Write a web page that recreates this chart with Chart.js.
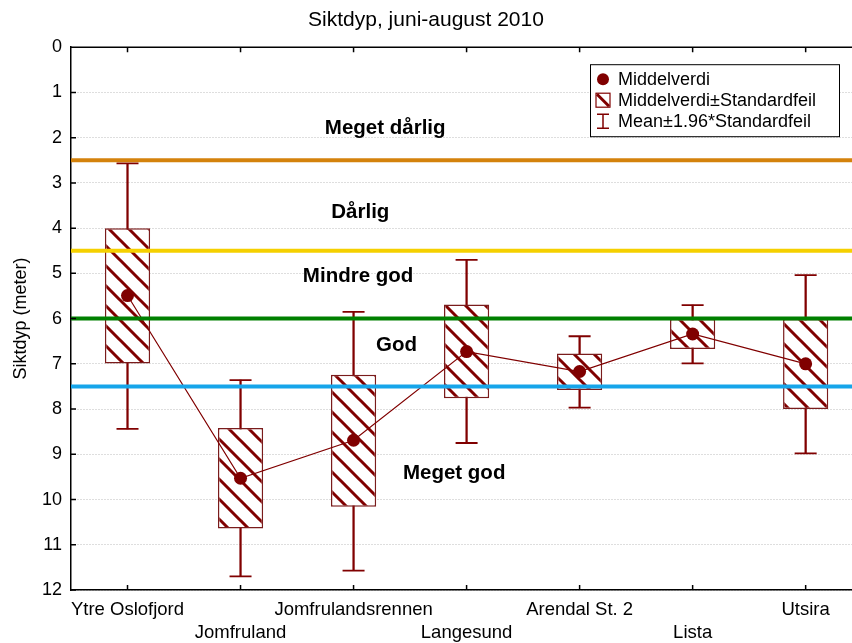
<!DOCTYPE html>
<html>
<head>
<meta charset="utf-8">
<script src="https://cdn.jsdelivr.net/npm/chart.js@4"></script>
<style>
  html, body { margin: 0; padding: 0; overflow: hidden; background: #fff; }
  #wrap { width: 852px; height: 643px; }
</style>
</head>
<body>
<div id="wrap"><canvas id="chart"></canvas></div>
<script>
const stations = ["Ytre Oslofjord", "Jomfruland", "Jomfrulandsrennen", "Langesund", "Arendal St. 2", "Lista", "Utsira"];
const means   = [5.49, 9.53, 8.69, 6.73, 7.17, 6.34, 7.00];
const seLow   = [4.00, 8.42, 7.24, 5.69, 6.77, 6.01, 6.01];
const seHigh  = [6.99, 10.64, 10.16, 7.76, 7.58, 6.67, 8.00];
const ciLow   = [2.57, 7.36, 5.85, 4.70, 6.39, 5.70, 5.04];
const ciHigh  = [8.44, 11.70, 11.57, 8.75, 7.97, 6.99, 8.98];

// quality classes: limit lines and the labels between them
const limits = [2.5, 4.5, 6.0, 7.5];
const limitColors = ["#d4820c", "#f5d000", "#008000", "#16a5ea"];
const classLabels = [
  { text: "Meget dårlig", x: 2.28, y: 1.79 },
  { text: "Dårlig", x: 2.06, y: 3.65 },
  { text: "Mindre god", x: 2.04, y: 5.06 },
  { text: "God", x: 2.38, y: 6.60 },
  { text: "Meget god", x: 2.89, y: 9.41 }
];

const DARK = "#800000";
const FONT = "'Liberation Sans', Arial, sans-serif";

// stations sit on x = 0..6; the plot runs on past the right edge of the picture
const xy = arr => arr.map((v, i) => ({ x: i, y: v }));

function hatch() {
  const c = document.createElement("canvas");
  c.width = 20; c.height = 20;
  const g = c.getContext("2d");
  g.fillStyle = "#fff";
  g.fillRect(0, 0, 20, 20);
  g.strokeStyle = DARK;
  g.lineWidth = 3;
  g.beginPath();
  g.moveTo(-5, -5); g.lineTo(25, 25);
  g.moveTo(-5, 15); g.lineTo(5, 25);
  g.moveTo(15, -5); g.lineTo(25, 5);
  g.stroke();
  return g.createPattern(c, "repeat");
}

// limit lines, class labels, inward ticks, top frame and legend box
const overlay = {
  id: "overlay",
  afterDatasetsDraw(chart) {
    const { ctx, chartArea: a, scales: { x, y } } = chart;
    ctx.save();
    limits.forEach((v, i) => {
      const py = y.getPixelForValue(v);
      ctx.strokeStyle = limitColors[i];
      ctx.lineWidth = 4;
      ctx.beginPath();
      ctx.moveTo(a.left, py);
      ctx.lineTo(a.right, py);
      ctx.stroke();
    });
    ctx.fillStyle = "#000";
    ctx.font = "bold 20.5px " + FONT;
    ctx.textAlign = "center";
    ctx.textBaseline = "middle";
    classLabels.forEach(l => {
      ctx.fillText(l.text, x.getPixelForValue(l.x), y.getPixelForValue(l.y));
    });
    ctx.restore();
  },
  afterDraw(chart) {
    const { ctx, chartArea: a, scales: { x, y } } = chart;
    ctx.save();
    ctx.strokeStyle = "#000";
    ctx.lineWidth = 1.5;
    ctx.beginPath();
    ctx.moveTo(a.left, a.top);
    ctx.lineTo(a.right, a.top);
    stations.forEach((s, i) => {
      const px = x.getPixelForValue(i);
      ctx.moveTo(px, a.bottom); ctx.lineTo(px, a.bottom - 5);
      ctx.moveTo(px, a.top); ctx.lineTo(px, a.top + 5);
    });
    y.ticks.forEach(t => {
      const py = y.getPixelForValue(t.value);
      ctx.moveTo(a.left, py); ctx.lineTo(a.left + 5, py);
    });
    ctx.stroke();

    // legend
    const lx = a.right - 262, ly = a.top + 17, lw = 249, lh = 72;
    ctx.fillStyle = "#fff";
    ctx.fillRect(lx, ly, lw, lh);
    ctx.lineWidth = 1;
    ctx.strokeStyle = "#000";
    ctx.strokeRect(lx + 0.5, ly + 0.5, lw, lh);
    const mx = lx + 13;
    const rows = [ly + 15, ly + 36, ly + 57];
    ctx.fillStyle = DARK;
    ctx.beginPath();
    ctx.arc(mx, rows[0], 6, 0, Math.PI * 2);
    ctx.fill();
    ctx.strokeStyle = DARK;
    ctx.lineWidth = 1.2;
    ctx.strokeRect(mx - 7, rows[1] - 7, 14, 14);
    ctx.lineWidth = 3;
    ctx.beginPath();
    ctx.moveTo(mx - 6, rows[1] - 6); ctx.lineTo(mx + 6, rows[1] + 6);
    ctx.stroke();
    ctx.lineWidth = 1.5;
    ctx.beginPath();
    ctx.moveTo(mx - 6, rows[2] - 7); ctx.lineTo(mx + 6, rows[2] - 7);
    ctx.moveTo(mx, rows[2] - 7); ctx.lineTo(mx, rows[2] + 7);
    ctx.moveTo(mx - 6, rows[2] + 7); ctx.lineTo(mx + 6, rows[2] + 7);
    ctx.stroke();
    ctx.fillStyle = "#000";
    ctx.font = "18px " + FONT;
    ctx.textAlign = "left";
    ctx.textBaseline = "middle";
    ["Middelverdi", "Middelverdi±Standardfeil", "Mean±1.96*Standardfeil"].forEach((t, i) => {
      ctx.fillText(t, lx + 28, rows[i] + 1);
    });
    ctx.restore();
  }
};

const ctx = document.getElementById("chart").getContext("2d");
new Chart(ctx, {
  type: "bar",
  data: {
    datasets: [
      {
        type: "line",
        label: "Middelverdi",
        data: xy(means),
        borderColor: DARK,
        borderWidth: 1.2,
        backgroundColor: DARK,
        pointRadius: 6.5,
        pointBackgroundColor: DARK,
        pointBorderWidth: 0,
        tension: 0,
        order: 0
      },
      {
        type: "line",
        label: "capLow",
        data: xy(ciLow),
        showLine: false,
        pointStyle: "line",
        pointRadius: 11,
        borderColor: DARK,
        pointBorderWidth: 1.8,
        order: 1
      },
      {
        type: "line",
        label: "capHigh",
        data: xy(ciHigh),
        showLine: false,
        pointStyle: "line",
        pointRadius: 11,
        borderColor: DARK,
        pointBorderWidth: 1.8,
        order: 1
      },
      {
        label: "Middelverdi±Standardfeil",
        data: seLow.map((v, i) => ({ x: i, y: [v, seHigh[i]] })),
        backgroundColor: hatch(),
        borderColor: "#7a1c1c",
        borderWidth: 1.5,
        borderSkipped: false,
        grouped: false,
        barPercentage: 0.4,
        categoryPercentage: 1,
        order: 2
      },
      {
        label: "Mean±1.96*Standardfeil",
        data: ciLow.map((v, i) => ({ x: i, y: [v, ciHigh[i]] })),
        backgroundColor: DARK,
        barThickness: 1.6,
        grouped: false,
        order: 3
      }
    ]
  },
  options: {
    responsive: true,
    maintainAspectRatio: false,
    animation: false,
    layout: { autoPadding: false },
    plugins: {
      legend: { display: false },
      tooltip: { enabled: false },
      title: {
        display: true,
        text: "Siktdyp, juni-august 2010",
        color: "#000",
        font: { family: FONT, size: 21, weight: "normal" },
        padding: { top: 8, bottom: 14 }
      }
    },
    scales: {
      x: {
        type: "linear",
        min: -0.5,
        max: 6.41,
        offset: false,
        grid: { display: false, drawTicks: false },
        border: { color: "#000", width: 1.5 },
        afterBuildTicks: s => { s.ticks = stations.map((n, i) => ({ value: i })); },
        ticks: {
          color: "#000",
          font: { family: FONT, size: 18.5, lineHeight: 1.25 },
          padding: 8,
          maxRotation: 0,
          autoSkip: false,
          callback: v => (v % 2 ? ["", stations[v]] : [stations[v]])
        },
        afterFit: s => { s.height = 53; }
      },
      y: {
        reverse: true,
        min: 0,
        max: 12,
        grid: { color: "#bdbdbd", lineWidth: 1, drawTicks: false },
        border: { color: "#000", width: 1.5, dash: [1, 2] },
        ticks: {
          stepSize: 1,
          color: "#000",
          font: { family: FONT, size: 18 },
          padding: 9
        },
        title: {
          display: true,
          text: "Siktdyp (meter)",
          color: "#000",
          font: { family: FONT, size: 18 },
          padding: { top: 10 }
        },
        afterFit: s => { s.width = 71; }
      }
    }
  },
  plugins: [overlay]
});
</script>
</body>
</html>
